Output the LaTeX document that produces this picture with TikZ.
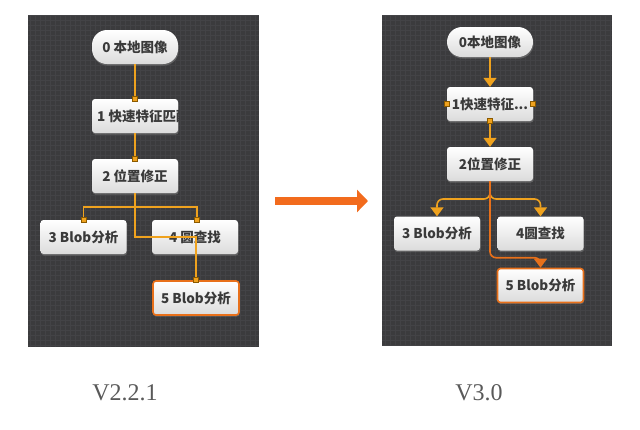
\documentclass[tikz,border=0pt]{standalone}
\usepackage{fontspec}
\setmainfont{Liberation Serif}
\newfontfamily\cjk{Noto Sans CJK SC}
\usepackage{tikz}
\usetikzlibrary{positioning,arrows.meta,shadows}

\definecolor{panelbg}{HTML}{3B3B3D}
\definecolor{gridln}{HTML}{434346}
\definecolor{wireor}{HTML}{EFA21E}
\definecolor{selor}{HTML}{E8701A}
\definecolor{portdk}{HTML}{8A5A00}
\definecolor{boxtxt}{HTML}{3A3A3A}
\definecolor{bigarr}{HTML}{F26B1D}

\tikzset{
  tool/.style={rounded corners=3pt, top color=white, bottom color=black!14,
    minimum width=86pt, minimum height=34pt, inner sep=0pt, text=boxtxt,
    font=\cjk\bfseries\fontsize{13.5}{15}\selectfont,
    drop shadow={opacity=0.55, shadow xshift=0.6pt, shadow yshift=-1.6pt}},
  pill/.style={tool, rounded corners=15pt},
  chosen/.style={draw=selor, line width=1.6pt},
  port/.style={rectangle, fill=wireor, draw=portdk, line width=0.5pt,
    minimum size=5pt, inner sep=0pt},
  wire/.style={draw=wireor, line width=1.6pt},
  flow/.style={wire, -{Triangle[length=9pt,width=13pt]}},
  panel/.style={fill=panelbg, draw=none}
}

\begin{document}
\begin{tikzpicture}[x=1pt,y=-1pt,node distance=60pt,on grid]
  \useasboundingbox (0,0) rectangle (640,429);
  % panels
  \fill[panel] (28,15) rectangle (259,347);
  \draw[gridln, line width=0.3pt, step=5pt] (28,15) grid (259,347);
  \fill[panel] (382,15) rectangle (612,345);
  \draw[gridln, line width=0.3pt, step=5pt] (382,15) grid (612,345);

  % V2.2.1
  \node[pill]        (o_0) at (135,47)                          {0 本地图像};
  \node[tool, path picture={\node[anchor=west, inner sep=0pt]
      at ([xshift=5pt]path picture bounding box.west) {1 快速特征匹配};}]
                     (o_1) [below=69pt of o_0]                   {};
  \node[tool]        (o_2) [below=of o_1]                        {2 位置修正};
  \node[tool]        (o_3) [below left=61pt and 51.5pt of o_2]   {3 Blob分析};
  \node[tool]        (o_4) [right=111.5pt of o_3]                {4 圆查找};
  \node[tool,chosen] (o_5) [below right=61pt and 1pt of o_4]     {5 Blob分析};
  \coordinate (o_fork) at (135,207);
  \path[wire]
    (o_0.south) -- (o_1.north)
    (o_1.south) -- (o_2.north)
    (o_2.south) -- (o_fork)
    (o_fork) -| (o_3.north)
    (o_fork) -| ([xshift=2pt]o_4.north)
    (o_2.south) |- (o_4.center) -| (o_5.north);
  \node[port] at (o_1.north) {};
  \node[port] at (o_2.north) {};
  \node[port] at (o_3.north) {};
  \node[port] at ([xshift=2pt]o_4.north) {};
  \node[port] at (o_5.north) {};

  % V3.0
  \node[pill, minimum height=30pt] (n_0) at (490,42)             {0本地图像};
  \node[tool]        (n_1) [below=62pt of n_0]                   {1快速特征...};
  \node[tool]        (n_2) [below=of n_1]                        {2位置修正};
  \node[tool]        (n_3) [below left=69.5pt and 53pt of n_2]   {3 Blob分析};
  \node[tool]        (n_4) [right=103.5pt of n_3]                {4圆查找};
  \node[tool,chosen] (n_5) [below=52pt of n_4]                   {5 Blob分析};
  \coordinate (n_fork) at (489.5,199);
  \draw[flow] (n_0.south) -- (n_1.north);
  \draw[flow] (n_1.south) -- (n_2.north);
  \draw[flow, rounded corners=6pt] (n_2.south) |- (n_fork -| n_3.north) -- (n_3.north);
  \draw[flow, rounded corners=6pt] (n_2.south) |- (n_fork -| n_4.north) -- (n_4.north);
  \draw[flow, draw=selor, rounded corners=6pt]
    (n_2.south) |- ([yshift=10pt]n_5.north) -- (n_5.north);
  \node[port] at (n_1.west)  {};
  \node[port] at (n_1.east)  {};
  \node[port] at (n_1.south) {};

  % big arrow between the panels
  \coordinate (from_old) at (275,201);
  \coordinate (to_new)   at (368,201);
  \draw[bigarr, line width=8pt, -{Triangle[length=11pt,width=22pt]}] (from_old) -- (to_new);

  % captions
  \node[text=black!65, font=\fontsize{24}{26}\selectfont] (cap_old) at (125,393) {V2.2.1};
  \node[text=black!65, font=\fontsize{24}{26}\selectfont] (cap_new) at (479,393) {V3.0};
\end{tikzpicture}
\end{document}
